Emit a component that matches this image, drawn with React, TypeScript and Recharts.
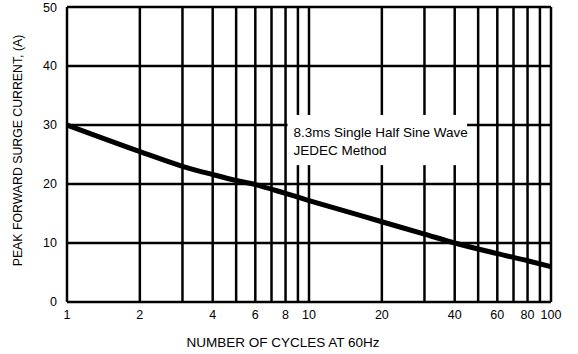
import React from 'react';
import {
    LineChart,
    Line,
    XAxis,
    YAxis,
    ReferenceLine,
    ReferenceArea
} from 'recharts';

// cycles at 60Hz vs peak forward surge current (A)
const cycles = [1, 2, 3, 4, 5, 6, 8, 10, 20, 30, 40, 60, 80, 100];
const surgeCurrent = [30, 25.5, 23, 21.6, 20.6, 19.9, 18.4, 17.2, 13.6, 11.5, 10, 8.2, 7, 6];

const xTicks = [1, 2, 4, 6, 8, 10, 20, 40, 60, 80, 100];
const yTicks = [0, 10, 20, 30, 40, 50];
const xGrid = [1, 2, 3, 4, 5, 6, 7, 8, 9, 10, 20, 30, 40, 50, 60, 70, 80, 90, 100];

const noteLines = ['8.3ms Single Half Sine Wave', 'JEDEC Method'];
// white note box, in data units
const noteX = [8.15, 45];
const noteY = [23.2, 31.7];

const FONT = '"Liberation Sans", Arial, sans-serif';

const data = cycles.map((c, i) => ({ cycles: c, current: surgeCurrent[i] }));

// grid lines crossing the note box get split in two so the box stays blank
const xSegments = xGrid.flatMap(x =>
    x > noteX[0] && x < noteX[1]
        ? [[{ x, y: 0 }, { x, y: noteY[0] }], [{ x, y: noteY[1] }, { x, y: 50 }]]
        : [[{ x, y: 0 }, { x, y: 50 }]]
);
const ySegments = yTicks.flatMap(y =>
    y > noteY[0] && y < noteY[1]
        ? [[{ x: 1, y }, { x: noteX[0], y }], [{ x: noteX[1], y }, { x: 100, y }]]
        : [[{ x: 1, y }, { x: 100, y }]]
);

const NoteLabel = (props: any) => {
    const { viewBox } = props;
    return (
        <g>
            {noteLines.map((t, i) => (
                <text
                    key={t}
                    x={viewBox.x + 6}
                    y={viewBox.y + 22 + i * 18}
                    fontSize={13.5}
                    fontFamily={FONT}
                    fill="#000"
                >
                    {t}
                </text>
            ))}
        </g>
    );
};

export default function App() {
    return (
        <div style={{ position: 'absolute', left: 0, top: 0, background: '#fff' }}>
            <LineChart
                width={578}
                height={354}
                data={data}
                margin={{ top: 7, right: 27, bottom: 0, left: 0 }}
            >
                {[...xSegments, ...ySegments].map((seg, i) => (
                    <ReferenceLine key={i} segment={seg} stroke="#000" strokeWidth={2.5} />
                ))}

                <ReferenceArea
                    x1={noteX[0]}
                    x2={noteX[1]}
                    y1={noteY[0]}
                    y2={noteY[1]}
                    fill="none"
                    stroke="none"
                    label={<NoteLabel />}
                />

                <XAxis
                    dataKey="cycles"
                    type="number"
                    scale="log"
                    domain={[1, 100]}
                    ticks={xTicks}
                    allowDataOverflow
                    height={52}
                    axisLine={false}
                    tickLine={false}
                    tick={{ fill: '#000', fontSize: 12.5, fontFamily: FONT }}
                    label={{
                        value: 'NUMBER OF CYCLES AT 60Hz',
                        position: 'insideBottom',
                        offset: 7,
                        dx: -26,
                        style: { fill: '#000', fontSize: 13.5, fontFamily: FONT }
                    }}
                />
                <YAxis
                    type="number"
                    domain={[0, 50]}
                    ticks={yTicks}
                    width={67}
                    axisLine={false}
                    tickLine={false}
                    tickMargin={4}
                    tick={{ fill: '#000', fontSize: 12.5, fontFamily: FONT }}
                    label={{
                        value: 'PEAK FORWARD SURGE CURRENT, (A)',
                        angle: -90,
                        position: 'insideLeft',
                        offset: 18,
                        dy: -4,
                        style: { fill: '#000', fontSize: 12.3, fontFamily: FONT, textAnchor: 'middle' }
                    }}
                />
                <Line
                    type="monotone"
                    dataKey="current"
                    stroke="#000"
                    strokeWidth={5}
                    dot={false}
                    isAnimationActive={false}
                />
            </LineChart>
        </div>
    );
}
